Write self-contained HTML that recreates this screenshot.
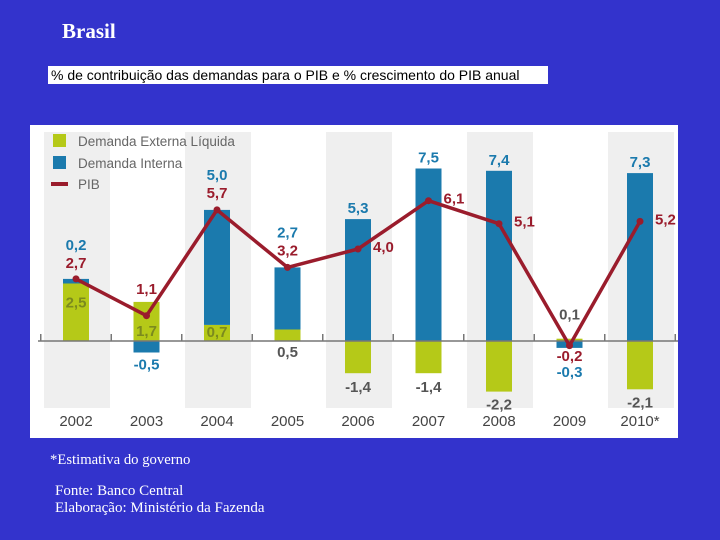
<!DOCTYPE html>
<html><head><meta charset="utf-8"><style>
body{margin:0;width:720px;height:540px;background:#3333cc;position:relative;overflow:hidden;font-family:"Liberation Sans",sans-serif}
.t{position:absolute;color:#fff;font-family:"Liberation Serif",serif}
</style></head><body>
<div class="t" style="left:62px;top:19px;font-size:21px;font-weight:bold">Brasil</div>
<div style="position:absolute;left:48px;top:66px;width:500px;height:18px;background:#fff;font-size:14px;line-height:18px;color:#000;padding-left:3px;box-sizing:border-box;white-space:nowrap">% de contribuição das demandas para o PIB e % crescimento do PIB anual</div>
<svg id="chart" width="720" height="540" style="position:absolute;left:0;top:0"></svg>
<div class="t" style="left:50px;top:452px;font-size:14.7px">*Estimativa do governo</div>
<div class="t" style="left:55px;top:483px;font-size:15px;line-height:17px">Fonte: Banco Central<br>Elaboração: Ministério da Fazenda</div>
<script>
const years=["2002","2003","2004","2005","2006","2007","2008","2009","2010*"];
const externa=[2.5,1.7,0.7,0.5,-1.4,-1.4,-2.2,0.1,-2.1];
const interna=[0.2,-0.5,5.0,2.7,5.3,7.5,7.4,-0.3,7.3];
const pib=[2.7,1.1,5.7,3.2,4.0,6.1,5.1,-0.2,5.2];
const NS="http://www.w3.org/2000/svg";
const svg=document.getElementById('chart');
const x0=76,dx=70.5,zeroY=341,k=23,bw=26;
const X=i=>x0+i*dx, Y=v=>zeroY-v*k;
const fmt=v=>v.toFixed(1).replace('.',',');
function el(t,a,p){const e=document.createElementNS(NS,t);for(const q in a)e.setAttribute(q,a[q]);(p||svg).appendChild(e);return e;}
function txt(s,x,y,fill,anchor,size,weight){const e=el('text',{x:x,y:y,fill:fill,'text-anchor':anchor||'middle','font-size':size||15,'font-weight':weight||'bold','font-family':'Liberation Sans, sans-serif'});e.textContent=s;return e;}
const panel=el('rect',{x:30,y:125,width:648,height:313,fill:'#fff'});


years.forEach((y,i)=>{if(i%2==0){const b=el('rect',{x:X(i)-32,y:132,width:66,height:276,fill:'#efefef'});

}});
years.forEach((y,i)=>{
  const e=externa[i],d=interna[i];
  const eTop=e>=0?Y(e):zeroY, eH=Math.abs(e)*k;
  const r1=el('rect',{x:X(i)-bw/2,y:eTop,width:bw,height:eH,fill:'#b5c918'});
  
  
  let base=0;
  if(d>=0&&e>=0)base=e;
  const dTop=d>=0?Y(base+d):Y(base), dH=Math.abs(d)*k;
  const r2=el('rect',{x:X(i)-bw/2,y:dTop,width:bw,height:dH,fill:'#1b7aad'});
  
  
  const yl=txt(y,X(i),426,'#444','middle',15,'normal');
  
  
});
const ax=el('line',{x1:38,y1:zeroY,x2:678,y2:zeroY,stroke:'#777','stroke-width':1.5});


for(let i=0;i<=9;i++){const tx=X(i)-dx/2;el('line',{x1:tx,y1:zeroY-7,x2:tx,y2:zeroY,stroke:'#777','stroke-width':1.5});}
const pts=pib.map((v,i)=>X(i)+','+Y(v)).join(' ');
const pl=el('polyline',{points:pts,fill:'none',stroke:'#9a1c2c','stroke-width':3.5,'stroke-linejoin':'round'});


pib.forEach((v,i)=>{const c=el('circle',{cx:X(i),cy:Y(v),r:3.5,fill:'#9a1c2c'});

});
const BLUE='#1b7aad',RED='#9a1c2c',OL='#7b8a1e',GR='#555';
years.forEach((y,i)=>{
  const e=externa[i],d=interna[i],p=pib[i];
  const stackTop=Y((e>0?e:0)+(d>0?d:0));
  if(d>=0&&e>=0&&d<1){
    txt(fmt(d),X(i),stackTop-29,BLUE);txt(fmt(p),X(i),stackTop-11,RED);txt(fmt(e),X(i),Y(e)+24,OL);
  }else if(d<0&&e>0.5){
    txt(fmt(p),X(i),Y(e)-8,RED);txt(fmt(e),X(i),zeroY-5,OL);txt(fmt(d),X(i),Y(d)+17,BLUE);
  }else if(d<0){
    txt(fmt(e),X(i),Y(e)-19,GR);txt(fmt(p),X(i),zeroY+20,RED);txt(fmt(d),X(i),zeroY+36,BLUE);
  }else if(e>=0){
    const big=e>0.6;
    txt(fmt(d),X(i),stackTop-30,BLUE);txt(fmt(p),X(i),stackTop-12,RED);
    if(big)txt(fmt(e),X(i),zeroY-4,OL);else txt(fmt(e),X(i),zeroY+16,GR);
  }else{
    txt(fmt(d),X(i),stackTop-6,BLUE);txt(fmt(p),X(i)+15,Y(p)+3,RED,'start');txt(fmt(e),X(i),Y(e)+(e<-2?18:19),GR);
  }
});
const lg=el('g',{});


el('rect',{x:53,y:134,width:13,height:13,fill:'#b5c918'},lg);
el('rect',{x:53,y:156,width:13,height:13,fill:'#1b7aad'},lg);
el('rect',{x:51,y:182,width:17,height:4,fill:'#9a1c2c'},lg);
[['Demanda Externa Líquida',146],['Demanda Interna',168],['PIB',189]].forEach(a=>{const t=txt(a[0],78,a[1],'#666','start',13.5,'normal');lg.appendChild(t);});
</script>
</body></html>
